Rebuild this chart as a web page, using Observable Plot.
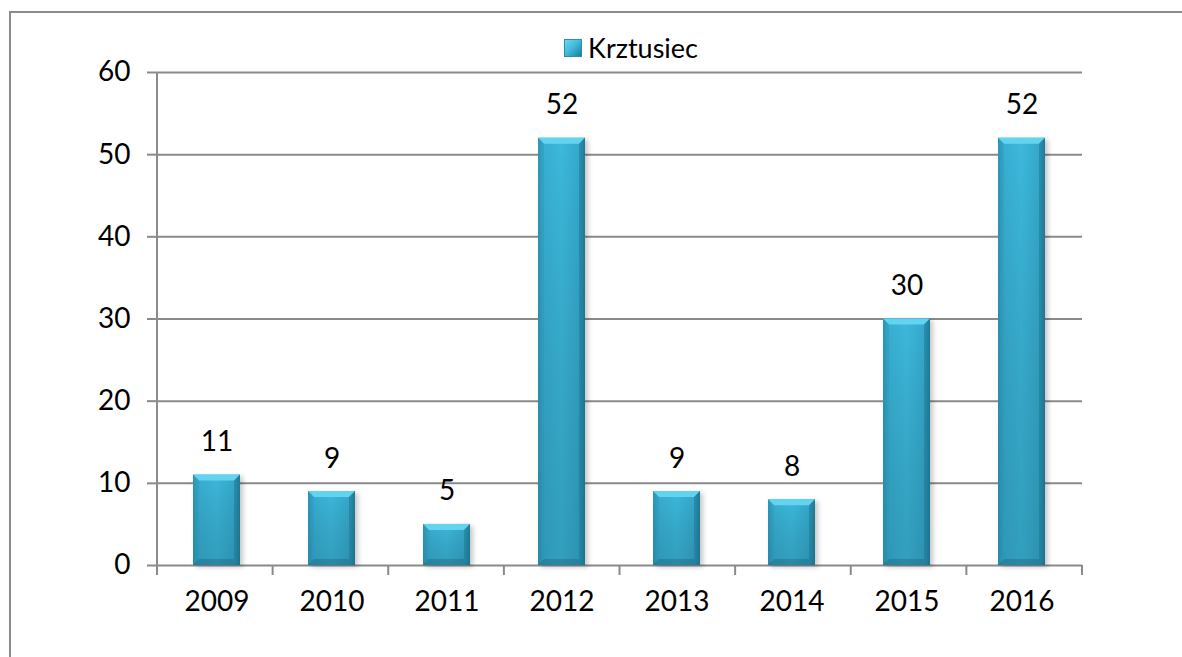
<!DOCTYPE html>
<html>
<head>
<meta charset="utf-8">
<script src="https://cdn.jsdelivr.net/npm/d3@7"></script>
<script src="https://cdn.jsdelivr.net/npm/@observablehq/plot@0.6"></script>
<style>
  body { margin: 0; background: #fff; }
  #wrap { position: relative; width: 1182px; height: 657px; overflow: hidden; font-family: Lato, "Open Sans", sans-serif; }
  #frame { position: absolute; left: 9px; top: 11px; width: 1300px; height: 800px; border-left: 2px solid #8c8c8c; border-top: 2px solid #8c8c8c; }
  #legend { position: absolute; left: 564px; top: 31px; display: flex; align-items: center; font-size: 27px; color: #000; }
  #legend .sw { width: 18px; height: 18px; margin-right: 6px; box-sizing: border-box;
    background: linear-gradient(135deg, #6fd7ef 0%, #3cb8da 50%, #1f7d99 100%); border: 1px solid #2a8fae; }
  #chart { position: absolute; left: 0; top: 0; }
</style>
</head>
<body>
<div id="wrap">
  <div id="frame"></div>
  <div id="chart"></div>
  <div id="legend"><span class="sw"></span><span id="legendText"></span></div>
</div>
<script>
const years = ["2009", "2010", "2011", "2012", "2013", "2014", "2015", "2016"];
const cases = [11, 9, 5, 52, 9, 8, 30, 52];
const yTicks = [0, 10, 20, 30, 40, 50, 60];
const seriesName = "Krztusiec";

document.getElementById("legendText").textContent = seriesName;

const data = years.map((year, i) => ({year, value: cases[i]}));
const gray = "#8a8a8a";
const SVGNS = "http://www.w3.org/2000/svg";

function defsMark() {
  const defs = document.createElementNS(SVGNS, "defs");
  defs.innerHTML = `
    <linearGradient id="barBody" x1="0" y1="0" x2="1" y2="0">
      <stop offset="0" stop-color="#2c97b7"/>
      <stop offset="0.1" stop-color="#37aed2"/>
      <stop offset="0.5" stop-color="#3cb8db"/>
      <stop offset="0.9" stop-color="#34a8cb"/>
      <stop offset="1" stop-color="#22809c"/>
    </linearGradient>
    <linearGradient id="barShade" x1="0" y1="0" x2="0" y2="1">
      <stop offset="0" stop-color="#000" stop-opacity="0"/>
      <stop offset="1" stop-color="#0b3a4a" stop-opacity="0.2"/>
    </linearGradient>
    <filter id="barShadow" x="-20%" y="-5%" width="150%" height="115%">
      <feDropShadow dx="3" dy="2" stdDeviation="2.5" flood-color="#000" flood-opacity="0.22"/>
    </filter>`;
  return defs;
}

function frameAxes(index, scales, values, dimensions) {
  const {width, height, marginLeft, marginRight, marginTop, marginBottom} = dimensions;
  const g = document.createElementNS(SVGNS, "g");
  const x0 = marginLeft, x1 = width - marginRight;
  const y0 = height - marginBottom;
  const n = years.length;
  const step = (x1 - x0) / n;
  let html = `<line x1="${x0}" x2="${x0}" y1="${marginTop}" y2="${y0 + 10}" stroke="${gray}" stroke-width="2"/>`;
  for (let i = 1; i <= n; i++) {
    const xx = x0 + i * step;
    html += `<line x1="${xx}" x2="${xx}" y1="${y0}" y2="${y0 + 10}" stroke="${gray}" stroke-width="2"/>`;
  }
  g.innerHTML = html;
  return g;
}

function bevel(index, scales, values, dimensions, context, next) {
  const g = next(index, scales, values, dimensions, context);
  const rects = Array.from(g.querySelectorAll("rect"));
  rects.forEach(r => {
    const x = +r.getAttribute("x"), y = +r.getAttribute("y");
    const w = +r.getAttribute("width"), h = +r.getAttribute("height");
    const b = Math.min(6, h / 2);
    const parent = r.parentNode;
    const add = (tag, attrs) => {
      const el = document.createElementNS(SVGNS, tag);
      for (const k in attrs) el.setAttribute(k, attrs[k]);
      parent.appendChild(el);
      return el;
    };
    add("rect", {x, y, width: w, height: h, fill: "url(#barShade)"});
    add("polygon", {points: `${x},${y} ${x + w},${y} ${x + w - b},${y + b} ${x + b},${y + b}`, fill: "#64d4ef"});
    add("polygon", {points: `${x},${y} ${x + b},${y + b} ${x + b},${y + h - b} ${x},${y + h}`, fill: "#2a92b3", "fill-opacity": 0.35});
    add("polygon", {points: `${x + w},${y} ${x + w - b},${y + b} ${x + w - b},${y + h - b} ${x + w},${y + h}`, fill: "#1d7390", "fill-opacity": 0.5});
    add("polygon", {points: `${x},${y + h} ${x + b},${y + h - b} ${x + w - b},${y + h - b} ${x + w},${y + h}`, fill: "#1b6680", "fill-opacity": 0.4});
  });
  g.setAttribute("filter", "url(#barShadow)");
  return g;
}

const chart = Plot.plot({
  width: 1182,
  height: 657,
  marginLeft: 157,
  marginRight: 100,
  marginTop: 72,
  marginBottom: 92,
  style: {fontFamily: "Lato, 'Open Sans', sans-serif", fontSize: "28px", color: "#000", background: "transparent", overflow: "visible"},
  x: {domain: years, paddingInner: 0.59, paddingOuter: 0.295, axis: null, label: null},
  y: {domain: [0, 60], axis: null, label: null},
  marks: [
    defsMark,
    Plot.gridY(yTicks, {stroke: gray, strokeOpacity: 1, strokeWidth: 2}),
    Plot.axisY(yTicks, {tickSize: 10, tickPadding: 17, stroke: gray, strokeWidth: 2, fontSize: 28, fill: "#000", label: null}),
    Plot.axisX(years, {tickSize: 0, tickPadding: 26, fontSize: 28, fill: "#000", label: null}),
    frameAxes,
    Plot.barY(data, {x: "year", y: "value", fill: "url(#barBody)", render: bevel}),
    Plot.text(data, {x: "year", y: "value", text: d => String(d.value), dy: -33, fontSize: 28, fill: "#000"})
  ]
});
document.getElementById("chart").appendChild(chart);
</script>
</body>
</html>
